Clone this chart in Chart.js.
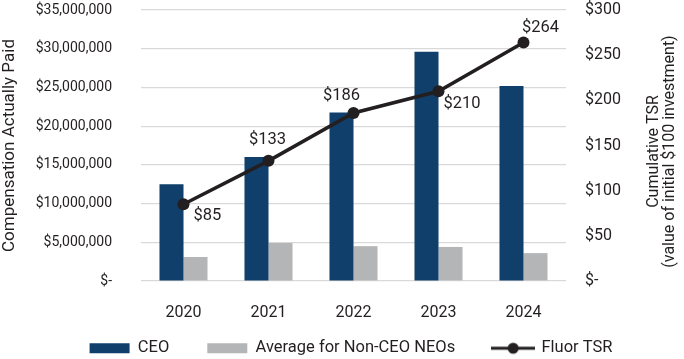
<!DOCTYPE html>
<html>
<head>
<meta charset="utf-8">
<script src="https://cdn.jsdelivr.net/npm/chart.js@4"></script>
<style>
  html, body { margin: 0; padding: 0; background: #fff; }
</style>
</head>
<body>
<canvas id="chart" width="684" height="359"></canvas>
<script>
// values
const years = ['2020', '2021', '2022', '2023', '2024'];
const ceoPay = [12500000, 16000000, 21750000, 29600000, 25200000];
const neoPay = [3100000, 4900000, 4500000, 4400000, 3600000];
const fluorTsr = [85, 133, 186, 210, 264];

const FONT = 'Roboto';
const TEXT = '#231f20';

// where each TSR label sits relative to its point: [dx, dy, align]
const tsrLabelPos = [[10, 12, 'left'], [-1, -21, 'center'], [-12, -17, 'center'], [5, 13, 'left'], [17, -15, 'center']];

function money(v) {
  if (v === 0) return '$-';
  return '$' + v.toLocaleString('en-US');
}

// little line-with-dot icon for the legend
function lineIcon() {
  let c = document.createElement('canvas');
  c.width = 44;
  c.height = 14;
  let g = c.getContext('2d');
  g.strokeStyle = TEXT;
  g.lineWidth = 3;
  g.beginPath();
  g.moveTo(0, 7);
  g.lineTo(44, 7);
  g.stroke();
  g.fillStyle = TEXT;
  g.beginPath();
  g.arc(22, 7, 5.5, 0, Math.PI * 2);
  g.fill();
  return c;
}
let tsrIcon = lineIcon();

const tsrLabels = {
  id: 'tsrLabels',
  afterDatasetsDraw(chart) {
    let meta = chart.getDatasetMeta(2);
    let ctx = chart.ctx;
    ctx.save();
    ctx.font = '16.5px ' + FONT;
    ctx.fillStyle = TEXT;
    ctx.textBaseline = 'middle';
    meta.data.forEach((pt, i) => {
      let p = tsrLabelPos[i];
      ctx.textAlign = p[2];
      ctx.fillText('$' + fluorTsr[i], pt.x + p[0], pt.y + p[1]);
    });
    ctx.restore();
  }
};

// right axis title reads bottom to top like the left one
const rightTitle = {
  id: 'rightTitle',
  afterDraw(chart) {
    let s = chart.scales.y1;
    let ctx = chart.ctx;
    let cy = (chart.chartArea.top + chart.chartArea.bottom) / 2 + 6;
    ctx.save();
    ctx.font = '16px ' + FONT;
    ctx.fillStyle = TEXT;
    ctx.textAlign = 'center';
    ctx.textBaseline = 'middle';
    [['Cumulative TSR', s.right - 30], ['(value of initial $100 investment)', s.right - 14]].forEach(l => {
      ctx.save();
      ctx.translate(l[1], cy);
      ctx.rotate(-Math.PI / 2);
      ctx.fillText(l[0], 0, 0);
      ctx.restore();
    });
    ctx.restore();
  }
};

// legend items are spread wide, pull the block back up and a bit right
const legendNudge = {
  id: 'legendNudge',
  afterLayout(chart) {
    let lg = chart.legend;
    lg.top -= lg.options.labels.padding - 19;
    lg.left += 9;
    lg.right += 9;
  }
};

new Chart(document.getElementById('chart'), {
  data: {
    labels: years,
    datasets: [
      {
        type: 'bar',
        label: 'CEO',
        data: ceoPay,
        backgroundColor: '#0f3f6a',
        yAxisID: 'y',
        order: 2,
        categoryPercentage: 0.565,
        barPercentage: 1
      },
      {
        type: 'bar',
        label: 'Average for Non-CEO NEOs',
        data: neoPay,
        backgroundColor: '#b4b5b7',
        yAxisID: 'y',
        order: 2,
        categoryPercentage: 0.565,
        barPercentage: 1
      },
      {
        type: 'line',
        label: 'Fluor TSR',
        data: fluorTsr,
        yAxisID: 'y1',
        borderColor: TEXT,
        backgroundColor: TEXT,
        borderWidth: 3.5,
        pointRadius: 6,
        pointBackgroundColor: TEXT,
        pointBorderWidth: 0,
        tension: 0,
        order: 0
      }
    ]
  },
  options: {
    responsive: false,
    animation: false,
    layout: { padding: { top: 10, left: 0, right: 0, bottom: 0 } },
    plugins: {
      tooltip: { enabled: false },
      legend: {
        position: 'bottom',
        maxHeight: 38,
        labels: {
          usePointStyle: true,
          pointStyleWidth: 40,
          boxHeight: 10,
          padding: 38,
          color: TEXT,
          font: { family: FONT, size: 16.5 },
          sort: (a, b) => a.datasetIndex - b.datasetIndex,
          generateLabels(chart) {
            let items = Chart.defaults.plugins.legend.labels.generateLabels(chart);
            items.forEach(it => {
              if (it.datasetIndex === 2) {
                it.pointStyle = tsrIcon;
              } else {
                it.pointStyle = 'rect';
                it.lineWidth = 0;
              }
            });
            return items;
          }
        }
      }
    },
    scales: {
      x: {
        grid: { display: false },
        border: { display: false },
        ticks: { color: TEXT, font: { family: FONT, size: 16 }, padding: 14 },
        afterFit(scale) { scale.height = 40; }
      },
      y: {
        position: 'left',
        min: 0,
        max: 35000000,
        grid: { color: '#d9d9d9', lineWidth: 1.2, drawTicks: false },
        border: { display: false },
        ticks: {
          stepSize: 5000000,
          color: TEXT,
          padding: 29,
          font: { family: FONT, size: 14 },
          callback: v => money(v)
        },
        title: {
          display: true,
          text: 'Compensation Actually Paid',
          color: TEXT,
          font: { family: FONT, size: 17 },
          padding: 0
        },
        afterFit(scale) {
          scale.width = 141;
          scale.paddingTop = 8;
          scale.paddingBottom = 8;
        }
      },
      y1: {
        position: 'right',
        min: 0,
        max: 300,
        grid: { display: false, drawTicks: false },
        border: { display: false },
        ticks: {
          stepSize: 50,
          color: TEXT,
          padding: 19,
          font: { family: FONT, size: 16 },
          callback: v => v === 0 ? '$-' : '$' + v
        },
        afterFit(scale) {
          scale.width = 118;
          scale.paddingTop = 8;
          scale.paddingBottom = 8;
        }
      }
    }
  },
  plugins: [tsrLabels, rightTitle, legendNudge]
});
</script>
</body>
</html>
